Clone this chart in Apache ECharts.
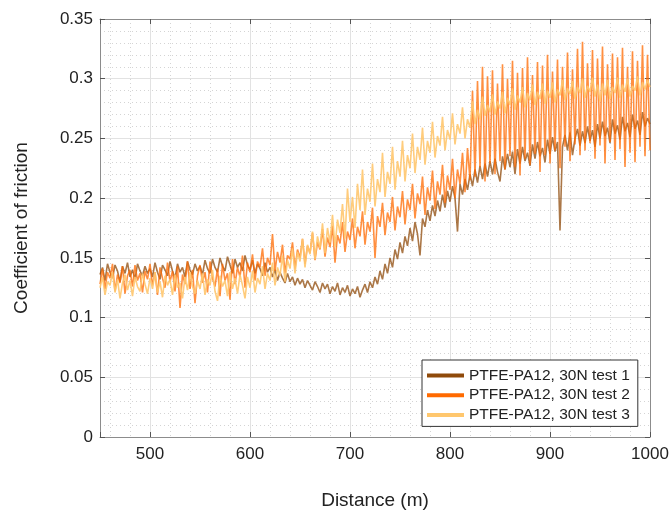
<!DOCTYPE html>
<html>
<head>
<meta charset="utf-8">
<script src="https://cdn.jsdelivr.net/npm/echarts@6/dist/echarts.min.js"></script>
<style>
  html, body { margin: 0; padding: 0; background: #fff; }
  #chart { width: 671px; height: 511px; }
</style>
</head>
<body>
<div id="chart"></div>
<script>
// samples are every 2.5 m from 450 m to 1000 m
const distStart = 450
const distStep = 2.5

const seriesNames = ['PTFE-PA12, 30N test 1', 'PTFE-PA12, 30N test 2', 'PTFE-PA12, 30N test 3']
const seriesColors = ['#8f4a0a', '#ff6a00', '#ffc76e']

const test1 = [
  0.136,0.142,0.131,0.145,0.138,0.133,0.144,0.139,0.130,0.143,0.137,0.146,0.134,0.140,0.132,0.145,0.139,0.135,0.143,0.137,
  0.141,0.134,0.146,0.138,0.132,0.144,0.140,0.135,0.147,0.139,0.133,0.145,0.138,0.142,0.134,0.147,0.140,0.136,0.145,0.139,
  0.143,0.136,0.148,0.141,0.137,0.149,0.142,0.138,0.150,0.143,0.139,0.151,0.144,0.137,0.149,0.142,0.146,0.139,0.152,0.144,
  0.140,0.148,0.137,0.145,0.141,0.135,0.146,0.138,0.142,0.134,0.140,0.131,0.138,0.133,0.129,0.137,0.130,0.134,0.127,0.133,
  0.128,0.132,0.125,0.131,0.127,0.123,0.130,0.126,0.121,0.129,0.124,0.128,0.120,0.126,0.122,0.129,0.119,0.125,0.121,0.127,
  0.118,0.124,0.120,0.126,0.117,0.123,0.128,0.121,0.130,0.125,0.134,0.128,0.139,0.132,0.145,0.137,0.150,0.142,0.157,0.149,
  0.163,0.154,0.168,0.160,0.175,0.164,0.180,0.170,0.152,0.183,0.176,0.190,0.181,0.194,0.185,0.198,0.189,0.203,0.192,0.206,
  0.197,0.210,0.200,0.172,0.212,0.203,0.216,0.207,0.220,0.210,0.224,0.213,0.227,0.216,0.229,0.218,0.231,0.220,0.233,0.222,
  0.214,0.235,0.224,0.237,0.226,0.239,0.220,0.241,0.229,0.243,0.231,0.238,0.227,0.245,0.233,0.247,0.235,0.242,0.230,0.249,
  0.237,0.251,0.239,0.247,0.173,0.243,0.253,0.240,0.255,0.236,0.250,0.258,0.244,0.256,0.246,0.260,0.248,0.257,0.243,0.262,
  0.250,0.264,0.252,0.259,0.246,0.266,0.254,0.261,0.249,0.268,0.256,0.263,0.251,0.270,0.258,0.265,0.253,0.272,0.260,0.267,
  0.262
]

const test2 = [
  0.128,0.141,0.124,0.138,0.133,0.145,0.122,0.136,0.129,0.143,0.120,0.135,0.140,0.126,0.144,0.131,0.137,0.121,0.139,0.132,
  0.145,0.127,0.138,0.119,0.142,0.133,0.125,0.146,0.130,0.139,0.122,0.143,0.108,0.136,0.128,0.147,0.124,0.140,0.112,0.135,
  0.144,0.129,0.138,0.121,0.147,0.133,0.126,0.141,0.118,0.145,0.131,0.137,0.115,0.149,0.128,0.142,0.134,0.152,0.125,0.146,
  0.138,0.153,0.131,0.147,0.142,0.158,0.135,0.150,0.144,0.170,0.139,0.155,0.146,0.161,0.137,0.152,0.149,0.163,0.141,0.157,
  0.150,0.166,0.145,0.160,0.154,0.171,0.148,0.163,0.157,0.174,0.151,0.167,0.159,0.177,0.146,0.169,0.162,0.180,0.155,0.172,
  0.165,0.183,0.158,0.176,0.168,0.189,0.161,0.180,0.172,0.192,0.150,0.185,0.176,0.196,0.169,0.188,0.180,0.201,0.173,0.193,
  0.184,0.206,0.178,0.199,0.190,0.212,0.183,0.204,0.195,0.218,0.186,0.209,0.198,0.223,0.191,0.214,0.203,0.228,0.196,0.219,
  0.207,0.233,0.200,0.224,0.212,0.238,0.205,0.242,0.215,0.290,0.218,0.298,0.226,0.310,0.214,0.302,0.229,0.307,0.220,0.296,
  0.231,0.312,0.224,0.300,0.235,0.315,0.226,0.305,0.219,0.309,0.233,0.318,0.228,0.303,0.237,0.314,0.222,0.311,0.236,0.320,
  0.229,0.306,0.240,0.316,0.225,0.310,0.243,0.322,0.231,0.308,0.245,0.325,0.236,0.331,0.240,0.313,0.246,0.324,0.233,0.317,
  0.244,0.327,0.229,0.312,0.247,0.321,0.232,0.318,0.241,0.326,0.226,0.310,0.238,0.323,0.230,0.315,0.243,0.328,0.235,0.320,
  0.240
]

const test3 = [
  0.125,0.134,0.119,0.130,0.127,0.138,0.121,0.132,0.116,0.129,0.136,0.123,0.131,0.118,0.134,0.126,0.122,0.137,0.128,0.120,
  0.133,0.124,0.138,0.121,0.130,0.117,0.135,0.127,0.132,0.119,0.136,0.125,0.129,0.116,0.134,0.123,0.138,0.126,0.120,0.131,
  0.124,0.137,0.119,0.132,0.127,0.140,0.122,0.114,0.135,0.126,0.131,0.118,0.138,0.124,0.133,0.120,0.136,0.127,0.116,0.134,
  0.125,0.139,0.121,0.133,0.128,0.143,0.124,0.137,0.131,0.146,0.127,0.142,0.135,0.152,0.130,0.148,0.141,0.158,0.137,0.155,
  0.147,0.166,0.142,0.161,0.153,0.172,0.149,0.168,0.158,0.179,0.154,0.175,0.163,0.186,0.159,0.182,0.171,0.195,0.166,0.208,
  0.180,0.201,0.175,0.212,0.190,0.224,0.186,0.208,0.197,0.229,0.193,0.216,0.205,0.238,0.201,0.222,0.212,0.243,0.207,0.231,
  0.218,0.248,0.214,0.236,0.225,0.254,0.221,0.243,0.232,0.259,0.228,0.248,0.238,0.264,0.234,0.252,0.244,0.268,0.240,0.257,
  0.249,0.271,0.245,0.262,0.254,0.276,0.250,0.266,0.259,0.281,0.262,0.274,0.266,0.285,0.269,0.278,0.272,0.287,0.270,0.281,
  0.275,0.289,0.271,0.284,0.278,0.292,0.274,0.286,0.280,0.293,0.276,0.288,0.282,0.295,0.278,0.289,0.283,0.296,0.279,0.290,
  0.284,0.297,0.280,0.291,0.286,0.299,0.282,0.292,0.287,0.298,0.283,0.293,0.288,0.300,0.284,0.294,0.289,0.301,0.285,0.295,
  0.281,0.296,0.286,0.299,0.283,0.293,0.288,0.301,0.284,0.295,0.289,0.300,0.285,0.294,0.290,0.302,0.286,0.297,0.291,0.299,
  0.293
]

// helper categories for the dotted minor grid on x (lines drawn every 20 m)
const minorGridX = []
for (let d = 450; d <= 1000; d += 10) minorGridX.push(String(d))

const font = '"Liberation Sans", Arial, sans-serif'
const textColor = '#222'
const frameColor = '#8c8c8c'

function toPairs(values) {
  return values.map((v, i) => [distStart + i * distStep, v])
}

const chart = echarts.init(document.getElementById('chart'))

chart.setOption({
  animation: false,
  backgroundColor: '#fff',
  textStyle: { fontFamily: font },
  grid: { left: 100, right: 21, top: 19, bottom: 74, outerBoundsMode: 'none' },
  legend: {
    orient: 'vertical',
    left: 422,
    top: 360,
    padding: [7, 8, 3, 5],
    itemGap: 2.7,
    itemWidth: 37,
    itemHeight: 4,
    icon: 'rect',
    backgroundColor: '#fff',
    borderColor: '#333',
    borderWidth: 1,
    textStyle: { fontFamily: font, fontSize: 15.5, color: textColor, lineHeight: 17 },
    data: seriesNames,
  },
  xAxis: [
    {
      type: 'value',
      min: 450,
      max: 1000,
      splitNumber: 5,
      position: 'bottom',
      name: 'Distance (m)',
      nameLocation: 'middle',
      nameGap: 54,
      nameTextStyle: { fontFamily: font, fontSize: 19, color: textColor },
      axisLine: { show: true, lineStyle: { color: frameColor, width: 1 } },
      axisTick: { show: true, inside: true, length: 5, lineStyle: { color: '#555' } },
      axisLabel: {
        fontFamily: font,
        fontSize: 17,
        color: textColor,
        margin: 9,
        formatter: (v) => (v === 450 ? '' : String(v)),
      },
      splitLine: { show: true, lineStyle: { color: '#e2e2e2', width: 1 } },
    },
    {
      type: 'category',
      data: minorGridX,
      boundaryGap: false,
      position: 'top',
      axisLine: { show: false },
      axisTick: { show: false },
      axisLabel: { show: false },
      splitLine: {
        show: true,
        interval: (idx, val) => {
          const d = Number(val)
          return d % 20 === 0 && d % 100 !== 0
        },
        lineStyle: { color: '#d4d4d4', type: [1, 3], width: 1 },
      },
    },
    {
      type: 'value',
      min: 450,
      max: 1000,
      splitNumber: 5,
      position: 'top',
      axisLine: { show: true, lineStyle: { color: frameColor, width: 1 } },
      axisTick: { show: true, inside: true, length: 5, lineStyle: { color: '#555' } },
      axisLabel: { show: false },
      splitLine: { show: false },
    },
  ],
  yAxis: [
    {
      type: 'value',
      min: 0,
      max: 0.35,
      interval: 0.05,
      position: 'left',
      name: 'Coefficient of friction',
      nameLocation: 'middle',
      nameGap: 69,
      nameTextStyle: { fontFamily: font, fontSize: 19, color: textColor },
      axisLine: { show: true, lineStyle: { color: frameColor, width: 1 } },
      axisTick: { show: true, inside: true, length: 5, lineStyle: { color: '#555' } },
      axisLabel: { fontFamily: font, fontSize: 17, color: textColor, margin: 7 },
      splitLine: { show: true, lineStyle: { color: '#e2e2e2', width: 1 } },
      minorTick: { show: false, splitNumber: 5 },
      minorSplitLine: { show: true, lineStyle: { color: '#d4d4d4', type: [1, 3], width: 1 } },
    },
    {
      type: 'value',
      min: 0,
      max: 0.35,
      interval: 0.05,
      position: 'right',
      axisLine: { show: true, lineStyle: { color: frameColor, width: 1 } },
      axisTick: { show: true, inside: true, length: 5, lineStyle: { color: '#555' } },
      axisLabel: { show: false },
      splitLine: { show: false },
    },
  ],
  series: [test1, test2, test3].map((vals, idx) => ({
    name: seriesNames[idx],
    type: 'line',
    xAxisIndex: 0,
    yAxisIndex: 0,
    data: toPairs(vals),
    showSymbol: false,
    symbol: 'none',
    lineStyle: { color: seriesColors[idx], width: 1.6, opacity: idx === 2 ? 0.9 : 0.75 },
    itemStyle: { color: seriesColors[idx] },
    z: 3 + idx,
  })),
})
</script>
</body>
</html>
